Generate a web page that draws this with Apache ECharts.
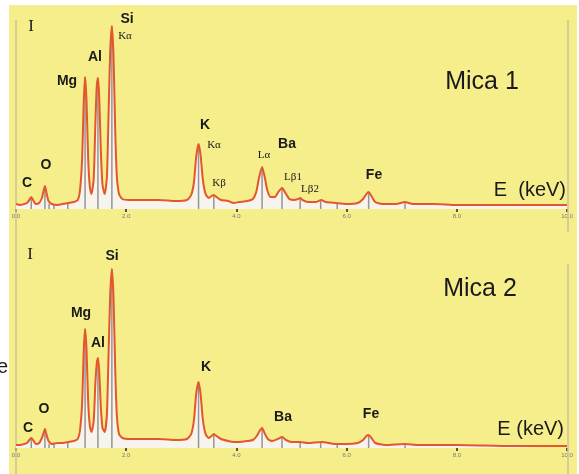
<!DOCTYPE html>
<html>
<head>
<meta charset="utf-8">
<script src="https://cdn.jsdelivr.net/npm/echarts@6/dist/echarts.min.js"></script>
<style>
  * { margin: 0; padding: 0; }
  body { background: #fff; }
</style>
</head>
<body>
<div id="spectra" style="width: 579px;height: 474px;"></div>
<script>
// energies in keV, intensities in arbitrary units
var energy1 = [0.00, 0.08, 0.15, 0.20, 0.24, 0.277, 0.31, 0.36, 0.42, 0.47, 0.50, 0.525, 0.55, 0.59, 0.65, 0.75, 0.85, 0.95, 1.05, 1.12,
    1.16, 1.20, 1.23, 1.254, 1.28, 1.31, 1.34, 1.37, 1.41, 1.44, 1.465, 1.487, 1.51, 1.54, 1.57, 1.61, 1.65, 1.68, 1.71, 1.74,
    1.77, 1.80, 1.83, 1.87, 1.93, 2.05, 2.3, 2.6, 2.9, 3.1, 3.18, 3.23, 3.27, 3.313, 3.35, 3.39, 3.44, 3.50, 3.55, 3.59,
    3.64, 3.72, 3.85, 3.95, 4.05, 4.20, 4.30, 4.36, 4.41, 4.466, 4.51, 4.56, 4.62, 4.70, 4.76, 4.83, 4.89, 4.96, 5.05, 5.12,
    5.157, 5.20, 5.30, 5.45, 5.54, 5.62, 5.80, 6.00, 6.20, 6.30, 6.36, 6.40, 6.45, 6.52, 6.65, 6.90, 7.06, 7.20, 7.6, 8.0,
    8.5, 9.0, 9.5, 10.0];
var counts1 = [5, 4, 5, 6, 9, 12, 9, 5, 6, 11, 18, 23, 17, 8, 5, 4, 5, 6, 7, 9,
    18, 50, 108, 132, 108, 50, 22, 15, 30, 84, 122, 131, 112, 58, 24, 15, 32, 95, 158, 183,
    152, 80, 33, 15, 10, 9, 9, 9, 8, 9, 14, 27, 52, 65, 54, 30, 15, 11, 13, 14,
    12, 9, 8, 6, 7, 8, 10, 17, 31, 42, 33, 19, 12, 12, 17, 21, 16, 10, 9, 10,
    11, 9, 7, 7, 9, 7, 6, 5, 6, 10, 15, 17, 13, 7, 5, 5, 7, 5, 5, 4,
    4, 4, 4, 4];

var energy2 = [0.00, 0.08, 0.15, 0.20, 0.24, 0.277, 0.31, 0.36, 0.42, 0.47, 0.50, 0.525, 0.55, 0.59, 0.65, 0.75, 0.85, 0.95, 1.05, 1.12,
    1.16, 1.20, 1.23, 1.254, 1.28, 1.31, 1.34, 1.37, 1.41, 1.44, 1.465, 1.487, 1.51, 1.54, 1.57, 1.61, 1.65, 1.68, 1.71, 1.74,
    1.77, 1.80, 1.83, 1.87, 1.93, 2.05, 2.3, 2.6, 2.9, 3.1, 3.18, 3.23, 3.27, 3.313, 3.35, 3.39, 3.44, 3.50, 3.55, 3.59,
    3.64, 3.72, 3.85, 3.95, 4.05, 4.20, 4.30, 4.37, 4.42, 4.466, 4.51, 4.57, 4.65, 4.75, 4.83, 4.90, 5.0, 5.15, 5.3, 5.55,
    5.8, 6.0, 6.2, 6.30, 6.36, 6.40, 6.45, 6.52, 6.7, 7.06, 7.3, 8.0, 9.0, 10.0];
var counts2 = [3, 3, 4, 5, 8, 10, 8, 4, 5, 10, 15, 19, 14, 7, 4, 5, 5, 6, 7, 9,
    17, 45, 98, 119, 98, 46, 22, 16, 27, 64, 84, 90, 77, 40, 20, 16, 34, 94, 153, 179,
    150, 80, 33, 14, 10, 9, 9, 9, 8, 9, 14, 28, 54, 66, 54, 29, 14, 10, 12, 14,
    12, 9, 7, 6, 6, 7, 8, 12, 17, 20, 15, 9, 7, 9, 11, 8, 6, 6, 5, 6,
    4, 4, 5, 8, 12, 13, 10, 5, 3, 4, 3, 3, 2, 2];

// line positions (keV) and the height of their grey markers
var lineE = [0.277, 0.525, 0.60, 0.69, 0.94, 1.254, 1.487, 1.74, 3.313, 3.59, 4.466, 4.828, 5.157, 5.53, 5.83, 6.40, 7.06];
var lineH1 = [12, 23, 5, 5, 6, 132, 131, 183, 65, 14, 42, 21, 11, 9, 6, 17, 7];
var lineH2 = [10, 19, 4, 5, 6, 119, 90, 179, 66, 14, 20, 11, 6, 6, 4, 13, 4];

function zip(a, b) {
    return a.map(function (v, i) { return [v, b[i]]; });
}

var sans = 'Liberation Sans, Arial, sans-serif';
var serif = 'Liberation Serif, Times New Roman, serif';

function txt(s, x, y, size, font, align, weight) {
    return {
        type: 'text', x: x, y: y, z: 50,
        style: {
            text: s, fill: '#1a1a1a', font: (weight || 'normal') + ' ' + size + 'px ' + font,
            textAlign: align || 'center', textVerticalAlign: 'middle'
        }
    };
}
function vline(x, y1, y2) {
    return { type: 'line', z: 1, shape: { x1: x, y1: y1, x2: x, y2: y2 }, style: { stroke: '#c9c39a', lineWidth: 1.5 } };
}

function xAxisFor(idx) {
    return {
        type: 'value', gridIndex: idx, min: 0, max: 10, interval: 2,
        axisLine: { show: false },
        axisTick: { show: true, length: 3, lineStyle: { color: '#222', width: 1.5 } },
        axisLabel: {
            show: true, fontSize: 6, color: '#777', margin: 4, fontFamily: sans,
            formatter: function (v) { return v.toFixed(1); }
        },
        splitLine: { show: false }
    };
}
function yAxisFor(idx) {
    return { type: 'value', gridIndex: idx, min: 0, max: 200, show: false, splitLine: { show: false } };
}

function spectrumSeries(idx, e, c, lh) {
    var pts = zip(e, c);
    return [
        {
            type: 'line', xAxisIndex: idx, yAxisIndex: idx, data: pts, z: 2,
            showSymbol: false, smooth: 0.2, lineStyle: { width: 0 },
            areaStyle: { color: '#f5f4f4', opacity: 0.92 }
        },
        {
            type: 'bar', xAxisIndex: idx, yAxisIndex: idx, data: zip(lineE, lh), z: 3,
            barWidth: 1.5, itemStyle: { color: '#959595' }
        },
        {
            type: 'line', xAxisIndex: idx, yAxisIndex: idx, data: pts, z: 4,
            showSymbol: false, smooth: 0.2,
            lineStyle: { color: '#e4562b', width: 2 }
        }
    ];
}

var chart = echarts.init(document.getElementById('spectra'));
chart.setOption({
    animation: false,
    backgroundColor: '#ffffff',
    grid: [
        { left: 16, width: 551, top: 9, height: 200 },
        { left: 16, width: 551, top: 248, height: 200 }
    ],
    xAxis: [xAxisFor(0), xAxisFor(1)],
    yAxis: [yAxisFor(0), yAxisFor(1)],
    series: spectrumSeries(0, energy1, counts1, lineH1).concat(spectrumSeries(1, energy2, counts2, lineH2)),
    graphic: [
        { type: 'rect', z: -10, shape: { x: 9, y: 5, width: 568, height: 469 }, style: { fill: '#f6ed8b' } },
        vline(16, 20, 474),
        vline(568, 20, 232),
        vline(568, 264, 474),
        // panel 1
        txt('I', 31, 27, 17, serif),
        txt('C', 27, 183, 14, sans, 'center', 'bold'),
        txt('O', 46, 165, 14, sans, 'center', 'bold'),
        txt('Mg', 67, 81, 14, sans, 'center', 'bold'),
        txt('Al', 95, 57, 14, sans, 'center', 'bold'),
        txt('Si', 127, 19, 14, sans, 'center', 'bold'),
        txt('Kα', 125, 36, 11, serif),
        txt('K', 205, 125, 14, sans, 'center', 'bold'),
        txt('Kα', 214, 145, 11, serif),
        txt('Kβ', 219, 183, 11, serif),
        txt('Lα', 264, 155, 11, serif),
        txt('Ba', 287, 144, 14, sans, 'center', 'bold'),
        txt('Lβ1', 293, 177, 11, serif),
        txt('Lβ2', 310, 189, 11, serif),
        txt('Fe', 374, 175, 14, sans, 'center', 'bold'),
        txt('Mica 1', 482, 82, 25, sans),
        txt('E  (keV)', 566, 190, 20, sans, 'right'),
        // panel 2
        txt('I', 30, 255, 17, serif),
        txt('e', 8, 367, 20, sans, 'right'),
        txt('C', 28, 428, 14, sans, 'center', 'bold'),
        txt('O', 44, 409, 14, sans, 'center', 'bold'),
        txt('Mg', 81, 313, 14, sans, 'center', 'bold'),
        txt('Al', 98, 343, 14, sans, 'center', 'bold'),
        txt('Si', 112, 256, 14, sans, 'center', 'bold'),
        txt('K', 206, 367, 14, sans, 'center', 'bold'),
        txt('Ba', 283, 417, 14, sans, 'center', 'bold'),
        txt('Fe', 371, 414, 14, sans, 'center', 'bold'),
        txt('Mica 2', 480, 289, 25, sans),
        txt('E (keV)', 564, 429, 20, sans, 'right')
    ]
});
</script>
</body>
</html>
